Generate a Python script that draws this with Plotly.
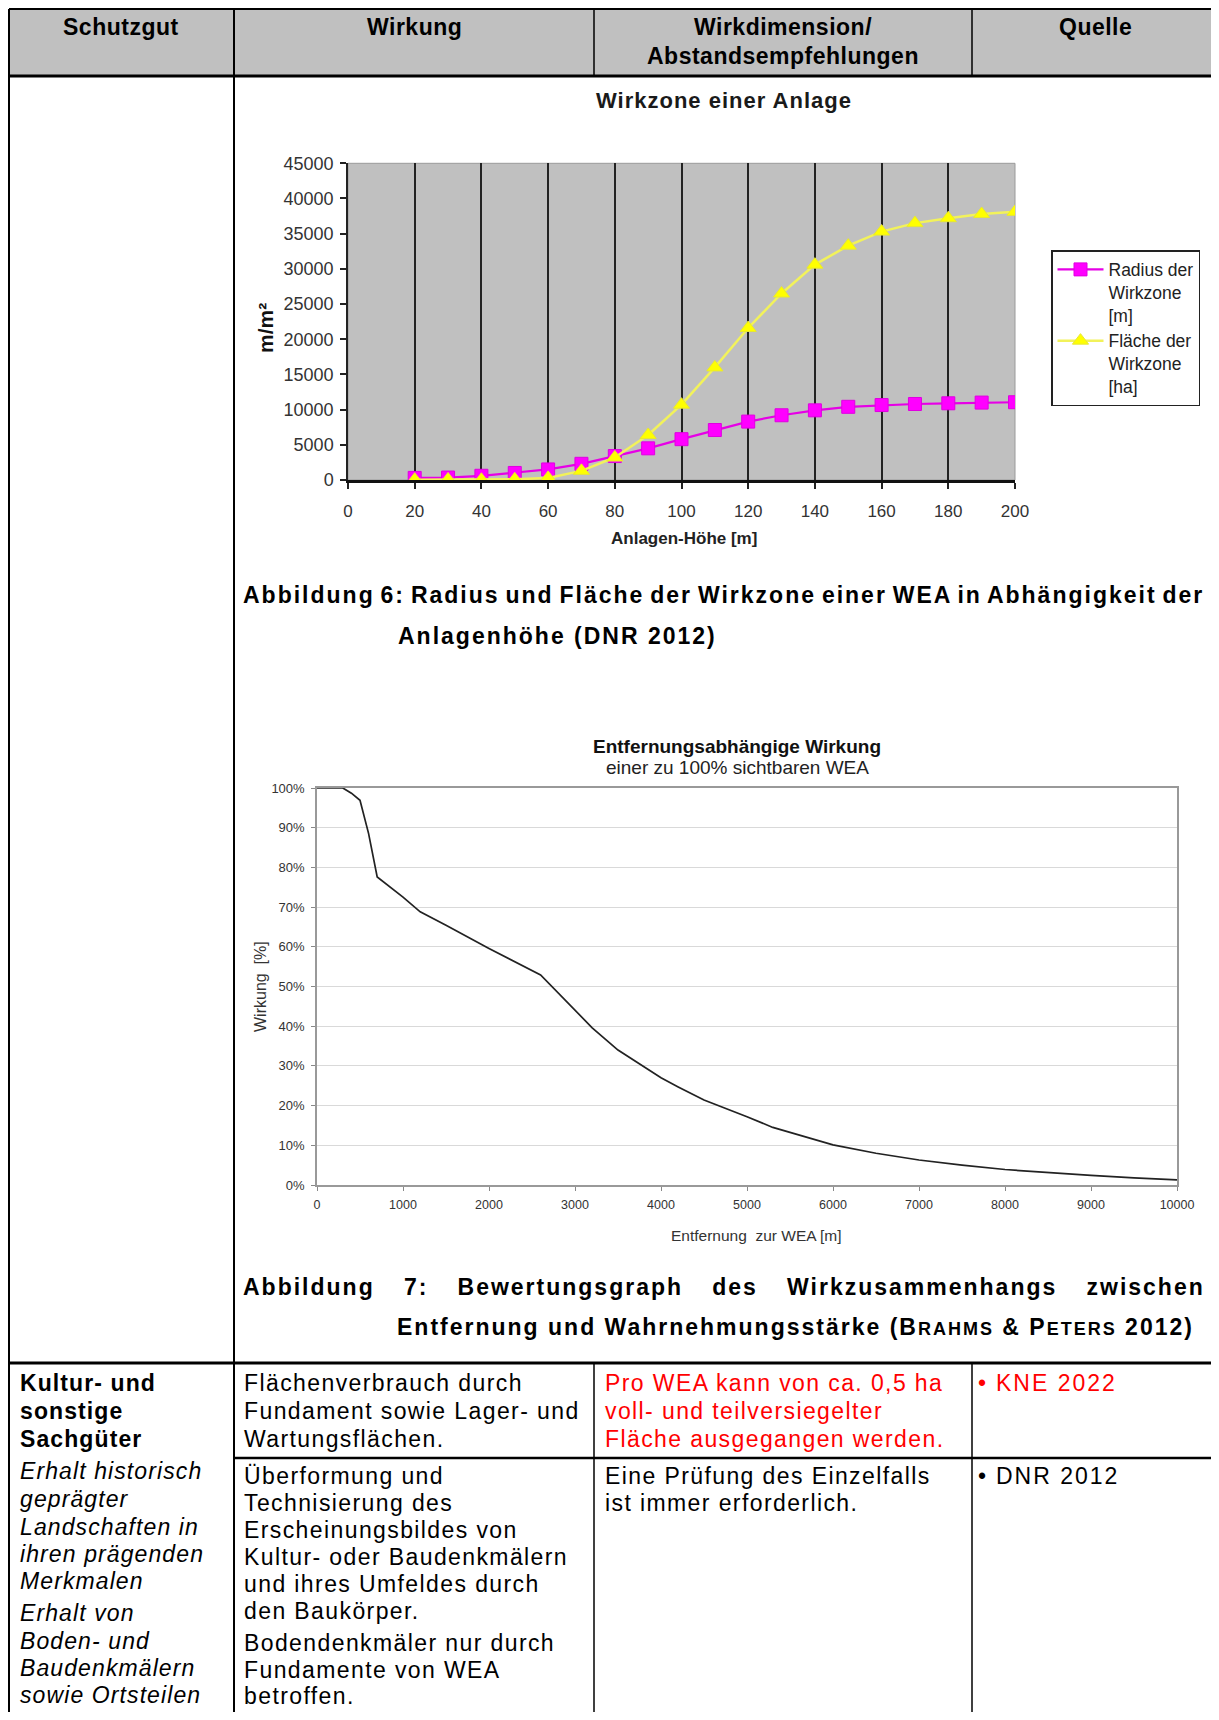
import plotly.graph_objects as go

# ---------------- data ----------------
# Chart 1: Wirkzone einer Anlage
heights = [20, 30, 40, 50, 60, 70, 80, 90, 100, 110, 120, 130, 140, 150, 160, 170, 180, 190, 200]
radius_m = [300, 350, 600, 1000, 1500, 2300, 3400, 4500, 5800, 7100, 8300, 9200, 9900, 10400, 10650, 10800, 10900, 11000, 11050]
flaeche_ha = [50, 80, 30, 100, 300, 1300, 3200, 6400, 10700, 16000, 21600, 26500, 30600, 33300, 35300, 36500, 37200, 37800, 38100]
x1_ticks = [0, 20, 40, 60, 80, 100, 120, 140, 160, 180, 200]
y1_ticks = [0, 5000, 10000, 15000, 20000, 25000, 30000, 35000, 40000, 45000]
y1_grid = [5000, 15000, 30000, 40000]

# Chart 2: Entfernungsabhängige Wirkung
entfernung = [0, 300, 400, 500, 600, 700, 1000, 1200, 1500, 2000, 2600, 3000, 3200, 3500, 4000, 4200, 4500,
              5000, 5300, 6000, 6500, 7000, 7500, 8000, 8500, 9000, 9500, 10000]
wirkung = [100, 100, 98.7, 96.9, 88.5, 77.6, 72.5, 68.8, 65.4, 59.6, 52.9, 44.0, 39.6, 34.0, 27.0, 24.7, 21.4,
           17.2, 14.5, 10.1, 8.0, 6.3, 5.0, 3.9, 3.1, 2.4, 1.8, 1.3]
x2_ticks = [0, 1000, 2000, 3000, 4000, 5000, 6000, 7000, 8000, 9000, 10000]
y2_ticks = [0, 10, 20, 30, 40, 50, 60, 70, 80, 90, 100]
y2_labels = ["0%", "10%", "20%", "30%", "40%", "50%", "60%", "70%", "80%", "90%", "100%"]

# Table text
header_cells = [["Schutzgut"], ["Wirkung"], ["Wirkdimension/", "Abstandsempfehlungen"], ["Quelle"]]
col1_bold = ["Kultur- und", "sonstige", "Sachgüter"]
col1_italic = ["Erhalt historisch", "geprägter", "Landschaften in", "ihren prägenden", "Merkmalen",
               "Erhalt von", "Boden- und", "Baudenkmälern", "sowie Ortsteilen"]
col2_rowA = ["Flächenverbrauch durch", "Fundament sowie Lager- und", "Wartungsflächen."]
col2_rowB = ["Überformung und", "Technisierung des", "Erscheinungsbildes von", "Kultur- oder Baudenkmälern",
             "und ihres Umfeldes durch", "den Baukörper.", "Bodendenkmäler nur durch", "Fundamente von WEA",
             "betroffen."]
col3_rowA = ["Pro WEA kann von ca. 0,5 ha", "voll- und teilversiegelter", "Fläche ausgegangen werden."]
col3_rowB = ["Eine Prüfung des Einzelfalls", "ist immer erforderlich."]
col4_rowA = "KNE 2022"
col4_rowB = "DNR 2012"
caption6 = ["Abbildung 6: Radius und Fläche der Wirkzone einer WEA in Abhängigkeit der",
            "Anlagenhöhe (DNR 2012)"]
caption7 = ["Abbildung 7: Bewertungsgraph des Wirkzusammenhangs zwischen",
            "Entfernung und Wahrnehmungsstärke (B<span style=\"font-size:18px\">RAHMS</span> &amp; "
            "P<span style=\"font-size:18px\">ETERS</span> 2012)"]

# ---------------- layout helpers ----------------
# The page body keeps its default 8px margin, so the figure is sized to fit
# inside the 1219x1720 window; all positions below are page pixels.
OFF = 8
W, H = 1210, 1704
FONT = "Liberation Sans, Arial, sans-serif"
BODY = 23
LS = 1.4
CAP_LS = 2.0


def X(px):
    return (px - OFF) / W


def Y(py):
    return 1 - (py - OFF) / H


annotations = []


def add_text(x, y, text, size=BODY, color="#000000", bold=False, italic=False,
             xanchor="left", ls=LS, ws=None, angle=0):
    t = text
    if bold:
        t = f"<b>{t}</b>"
    if italic:
        t = f"<i>{t}</i>"
    if ls is not None or ws is not None:
        style = []
        if ls is not None:
            style.append(f"letter-spacing:{ls}px")
        if ws is not None:
            style.append(f"word-spacing:{ws}px")
        t = f'<span style="{";".join(style)}">{t}</span>'
    annotations.append(dict(
        x=X(x), y=Y(y), xref="paper", yref="paper", text=t, showarrow=False,
        xanchor=xanchor, yanchor="middle", textangle=angle,
        font=dict(family=FONT, size=size, color=color)))


shapes = []


def hline(y, x0, x1, w=2):
    shapes.append(dict(type="line", xref="paper", yref="paper", x0=X(x0), x1=X(x1), y0=Y(y), y1=Y(y),
                       line=dict(color="#000000", width=w)))


def vline(x, y0, y1, w=2):
    shapes.append(dict(type="line", xref="paper", yref="paper", x0=X(x), x1=X(x), y0=Y(y0), y1=Y(y1),
                       line=dict(color="#000000", width=w)))


# ---------------- table frame ----------------
TOP, LEFT, RIGHT, BOTTOM = 9, 9, 1216, 1712
shapes.append(dict(type="rect", xref="paper", yref="paper", x0=X(LEFT), x1=X(RIGHT), y0=Y(TOP), y1=Y(76),
                   fillcolor="#c0c0c0", line=dict(width=0), layer="below"))
hline(TOP, LEFT, RIGHT, 2)
hline(76, LEFT, RIGHT, 3)
hline(1363, LEFT, RIGHT, 3)
hline(1458, 234, RIGHT, 2.5)
vline(LEFT, TOP, BOTTOM, 2)
vline(RIGHT, TOP, BOTTOM, 2)
vline(234, TOP, BOTTOM, 2)
for cx in (594, 972):
    vline(cx, TOP, 76, 1.5)
    vline(cx, 1363, BOTTOM, 1.5)

# chart 1 plot background (grey)
shapes.append(dict(type="rect", xref="x domain", yref="y domain", x0=0, x1=1, y0=0, y1=1,
                   fillcolor="#c0c0c0", line=dict(color="#9a9a9a", width=1), layer="below"))

# ---------------- header ----------------
centers = [121, 414, 783, 1095]
for cx, cell in zip(centers, header_cells):
    add_text(cx, 27, cell[0], bold=True, xanchor="center", ls=0.5)
    if len(cell) > 1:
        add_text(cx, 56, cell[1], bold=True, xanchor="center", ls=0.5)

# ---------------- chart titles and captions ----------------
add_text(724, 101, "Wirkzone einer Anlage", size=22, color="#1a1a1a", bold=True, xanchor="center", ls=1)
add_text(684, 538, "Anlagen-Höhe [m]", size=17, color="#222222", bold=True, xanchor="center", ls=None)
add_text(265, 328, "m/m²", size=21, color="#111111", bold=True, xanchor="center", ls=None, angle=-90)

add_text(241, 595, caption6[0], bold=True, ls=CAP_LS, ws=-2.5)
add_text(396, 636, caption6[1], bold=True, ls=CAP_LS)

add_text(737, 746, "Entfernungsabhängige Wirkung", size=19, color="#111111", bold=True, xanchor="center", ls=None)
add_text(737, 767, "einer zu 100% sichtbaren WEA", size=19, color="#222222", xanchor="center", ls=None)
add_text(756, 1235, "Entfernung\u00a0 zur WEA [m]", size=15.5, color="#333333", xanchor="center", ls=None)
add_text(260, 987, "Wirkung\u00a0 [%]", size=16, color="#333333", xanchor="center", ls=None, angle=-90)

add_text(241, 1287, caption7[0], bold=True, ls=CAP_LS, ws=20.8)
add_text(395, 1327, caption7[1], bold=True, ls=CAP_LS)

# ---------------- table body ----------------
y_col1 = [1383, 1411, 1439, 1471, 1499, 1527, 1554, 1581, 1613, 1641, 1668, 1695]
for i, line in enumerate(col1_bold + col1_italic):
    add_text(18, y_col1[i], line, bold=(i < 3), italic=(i >= 3), ls=1.1)
y_rowA = [1383, 1411, 1439]
y_rowB = [1476, 1503, 1530, 1557, 1584, 1611, 1643, 1670, 1696]
for i, line in enumerate(col2_rowA):
    add_text(241.5, y_rowA[i], line)
for i, line in enumerate(col2_rowB):
    add_text(241.5, y_rowB[i], line)
for i, line in enumerate(col3_rowA):
    add_text(602.5, y_rowA[i], line, color="#ff0000")
for i, line in enumerate(col3_rowB):
    add_text(602.5, y_rowB[i], line)
add_text(976, y_rowA[0], "•", color="#ff0000", ls=None)
add_text(994, y_rowA[0], col4_rowA, color="#ff0000", ls=2.0)
add_text(976, y_rowB[0], "•", ls=None)
add_text(994, y_rowB[0], col4_rowB, ls=2.0)

# ---------------- figure ----------------
fig = go.Figure()
fig.add_trace(go.Scatter(
    x=heights, y=radius_m, name="Radius der<br>Wirkzone<br>[m]", mode="lines+markers",
    line=dict(color="#e600e6", width=2.2),
    marker=dict(symbol="square", size=13, color="#ff00ff", line=dict(color="#e000e0", width=1)),
    xaxis="x", yaxis="y"))
fig.add_trace(go.Scatter(
    x=heights, y=flaeche_ha, name="Fläche der<br>Wirkzone<br>[ha]", mode="lines+markers",
    line=dict(color="#f2f25a", width=2.5),
    marker=dict(symbol="triangle-up", size=14, color="#ffff00", line=dict(color="#e8e830", width=1)),
    xaxis="x", yaxis="y"))
fig.add_trace(go.Scatter(
    x=entfernung, y=wirkung, name="Wirkung", mode="lines", showlegend=False,
    line=dict(color="#222222", width=1.7), xaxis="x2", yaxis="y2"))

fig.update_layout(
    width=W, height=H, margin=dict(l=0, r=0, t=0, b=0, autoexpand=False), autosize=False,
    paper_bgcolor="#ffffff", plot_bgcolor="rgba(0,0,0,0)",
    font=dict(family=FONT, color="#000000"),
    showlegend=True,
    legend=dict(x=X(1051), y=Y(250), xanchor="left", yanchor="top", bgcolor="#ffffff",
                bordercolor="#222222", borderwidth=1.5, valign="top", tracegroupgap=0, itemwidth=46,
                font=dict(family=FONT, size=17.5, color="#222222")),
    xaxis=dict(domain=[X(348), X(1015)], anchor="y", range=[0, 200], tickvals=x1_ticks,
               showgrid=True, gridcolor="#222222", gridwidth=1.5, zeroline=False,
               showline=True, linecolor="#111111", linewidth=2.5,
               ticks="outside", ticklen=6, tickwidth=1.5, tickcolor="#222222", ticklabelstandoff=8,
               tickfont=dict(family=FONT, size=17, color="#333333")),
    yaxis=dict(domain=[Y(480), Y(163.3)], anchor="x", range=[0, 45000], tickvals=y1_ticks,
               tickformat="d", showgrid=False, zeroline=False,
               showline=True, linecolor="#222222", linewidth=1.5,
               ticks="outside", ticklen=6, tickwidth=1.5, tickcolor="#222222", ticklabelstandoff=3,
               tickfont=dict(family=FONT, size=18, color="#333333")),
    yaxis3=dict(overlaying="y", anchor="x", range=[0, 45000], tickvals=y1_grid,
                showgrid=True, gridcolor="#222222", gridwidth=1.5, zeroline=False,
                showticklabels=False, ticks="", showline=False),
    xaxis2=dict(domain=[X(317), X(1177)], anchor="y2", range=[0, 10000], tickvals=x2_ticks,
                tickformat="d", showgrid=False, zeroline=False, showline=True, linecolor="#999999",
                linewidth=1.5, mirror=True, ticks="outside", ticklen=4, tickwidth=1, tickcolor="#888888",
                ticklabelstandoff=3, tickfont=dict(family=FONT, size=12.5, color="#333333")),
    yaxis2=dict(domain=[Y(1185), Y(788)], anchor="x2", range=[0, 100], tickvals=y2_ticks,
                ticktext=y2_labels, showgrid=True, gridcolor="#d9d9d9", gridwidth=1, zeroline=False,
                showline=True, linecolor="#999999", linewidth=1.5, mirror=True,
                ticks="outside", ticklen=4, tickwidth=1, tickcolor="#888888", ticklabelstandoff=4,
                tickfont=dict(family=FONT, size=13, color="#333333")),
    shapes=shapes,
    annotations=annotations,
)

fig.write_html("out.html", config={"responsive": False, "displayModeBar": False})
